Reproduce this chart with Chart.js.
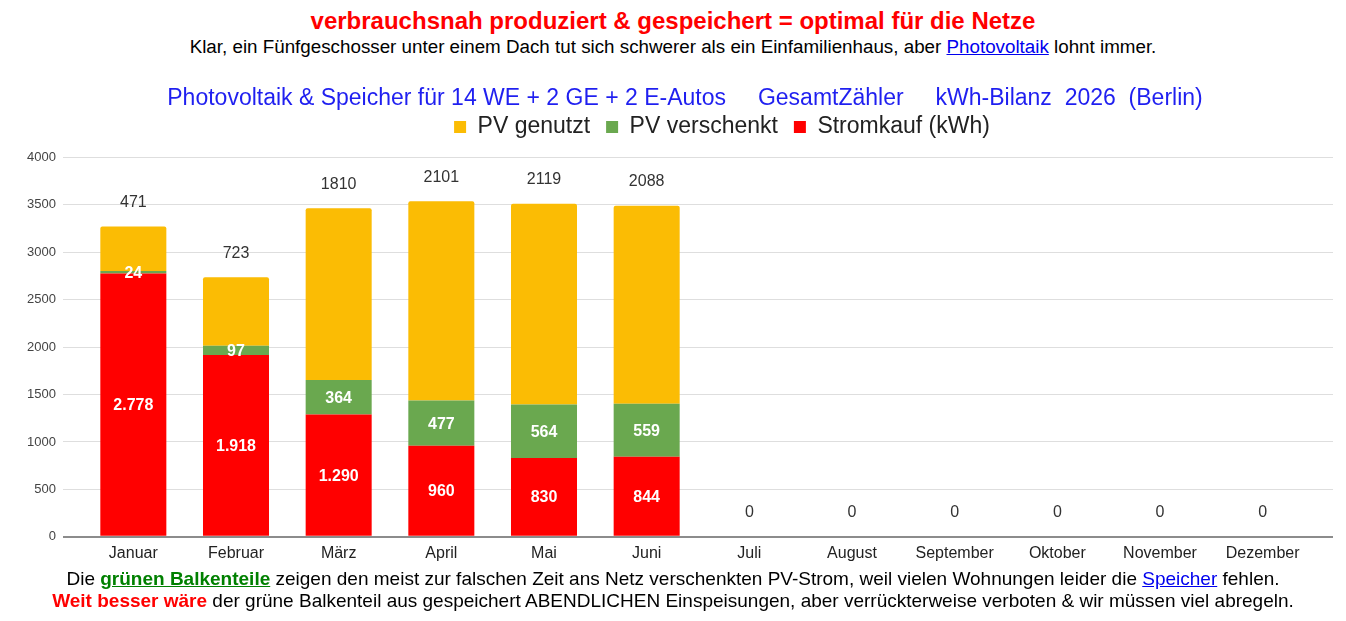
<!DOCTYPE html>
<html lang="de">
<head>
<meta charset="utf-8">
<title>PV-Bilanz 2026</title>
<script src="https://cdn.jsdelivr.net/npm/chart.js@4.4.1/dist/chart.umd.min.js"></script>
<style>
  html, body { margin: 0; padding: 0; background: #fff; }
  body { width: 1346px; height: 621px; position: relative; overflow: hidden;
         font-family: "Liberation Sans", Arial, sans-serif; }
  .line { position: absolute; left: 0; width: 1346px; text-align: center; white-space: nowrap; }
  #head1 { top: 7px; font-size: 24px; font-weight: bold; color: #ff0000; line-height: 28px; }
  #head2 { top: 36px; font-size: 18.8px; color: #000; line-height: 22px; }
  #foot1 { top: 568px; font-size: 19px; color: #000; line-height: 22px; }
  #foot2 { top: 590px; font-size: 19px; color: #000; line-height: 22px; }
  a { color: #0000ee; text-decoration: underline; }
  .green { color: #008000; font-weight: bold; text-decoration: underline; }
  .red { color: #ff0000; font-weight: bold; }
  #wrap { position: absolute; left: 0; top: 58px; width: 1346px; height: 512px; }
</style>
</head>
<body>
<div class="line" id="head1">verbrauchsnah produziert &amp; gespeichert = optimal für die Netze</div>
<div class="line" id="head2">Klar, ein Fünfgeschosser unter einem Dach tut sich schwerer als ein Einfamilienhaus, aber <a href="#">Photovoltaik</a> lohnt immer.</div>
<div id="wrap"><canvas id="pvChart"></canvas></div>
<div class="line" id="foot1">Die <span class="green">grünen Balkenteile</span> zeigen den meist zur falschen Zeit ans Netz verschenkten PV-Strom, weil vielen Wohnungen leider die <a href="#">Speicher</a> fehlen.</div>
<div class="line" id="foot2"><span class="red">Weit besser wäre</span> der grüne Balkenteil aus gespeichert ABENDLICHEN Einspeisungen, aber verrückterweise verboten &amp; wir müssen viel abregeln.</div>

<script>
// Monate und Werte (kWh)
const months = ['Januar', 'Februar', 'März', 'April', 'Mai', 'Juni', 'Juli', 'August', 'September', 'Oktober', 'November', 'Dezember'];
const stromkauf = [2778, 1918, 1290, 960, 830, 844, 0, 0, 0, 0, 0, 0];
const pvVerschenkt = [24, 97, 364, 477, 564, 559, 0, 0, 0, 0, 0, 0];
const pvGenutzt = [471, 723, 1810, 2101, 2119, 2088, 0, 0, 0, 0, 0, 0];
const yTicks = [0, 500, 1000, 1500, 2000, 2500, 3000, 3500, 4000];

const FONT = '"Liberation Sans", Arial, sans-serif';
Chart.defaults.font.family = FONT;

const fmt = v => String(v).replace(/\B(?=(\d{3})+(?!\d))/g, '.');

// Zahlen in / ueber die Balken schreiben
const barLabels = {
  id: 'barLabels',
  afterDatasetsDraw(chart) {
    const ctx = chart.ctx;
    ctx.save();
    ctx.textAlign = 'center';
    ctx.textBaseline = 'middle';
    chart.data.datasets.forEach((ds, i) => {
      const meta = chart.getDatasetMeta(i);
      meta.data.forEach((bar, j) => {
        const v = ds.data[j];
        if (ds.labelPos === 'top') {
          ctx.font = '16px ' + FONT;
          ctx.fillStyle = '#333';
          ctx.fillText(String(v), bar.x, bar.y - 24);
        } else if (v > 0) {
          ctx.font = 'bold 16px ' + FONT;
          ctx.fillStyle = '#fff';
          ctx.fillText(ds.labelFmt(v), bar.x, (bar.y + bar.base) / 2 + 1);
        }
      });
    });
    ctx.restore();
  }
};

// Titel und Legende stehen im Original etwas rechts der Mitte
const nudge = {
  id: 'nudge',
  afterLayout(chart) {
    chart.titleBlock.left += 12;
    chart.titleBlock.right += 12;
    chart.legend.left += 49;
    chart.legend.right += 49;
  }
};

const gridColor = c => (c.tick && c.tick.value === 0 ? '#8c8c8c' : '#dedede');
const gridWidth = c => (c.tick && c.tick.value === 0 ? 2 : 1);

new Chart(document.getElementById('pvChart'), {
  type: 'bar',
  data: {
    labels: months,
    datasets: [
      { label: 'Stromkauf (kWh)', data: stromkauf, backgroundColor: '#ff0000', labelFmt: fmt },
      { label: 'PV verschenkt', data: pvVerschenkt, backgroundColor: '#6aa84f', labelFmt: String },
      { label: 'PV genutzt', data: pvGenutzt, backgroundColor: '#fbbc04', labelPos: 'top',
        borderRadius: { topLeft: 2, topRight: 2 }, borderSkipped: 'bottom' },
    ],
  },
  options: {
    responsive: true,
    maintainAspectRatio: false,
    animation: false,
    datasets: { bar: { categoryPercentage: 1, barPercentage: 0.643 } },
    layout: { padding: 0 },
    plugins: {
      tooltip: { enabled: false },
      title: {
        display: true,
        text: 'Photovoltaik & Speicher für 14 WE + 2 GE + 2 E-Autos     GesamtZähler     kWh-Bilanz  2026  (Berlin)',
        color: '#1f1ff0',
        font: { size: 23, weight: 'normal', lineHeight: 1 },
        padding: { top: 29.5, bottom: -11 },
      },
      // leerer Untertitel als Abstand zwischen Legende und Diagramm
      subtitle: {
        display: true,
        text: '',
        weight: 500,
        font: { size: 1, lineHeight: 1 },
        padding: { top: 4, bottom: 4 },
      },
      legend: {
        position: 'top',
        labels: {
          color: '#222',
          font: { size: 23 },
          boxWidth: 12,
          boxHeight: 12,
          padding: 16,
          sort: (a, b) => b.datasetIndex - a.datasetIndex,
        },
      },
    },
    scales: {
      x: {
        stacked: true,
        grid: { display: false, drawTicks: false },
        border: { display: false },
        ticks: { color: '#222', font: { size: 16 }, padding: 7 },
      },
      y: {
        stacked: true,
        min: 0,
        max: 4000,
        afterBuildTicks: s => { s.ticks = yTicks.map(v => ({ value: v })); },
        afterFit: s => { s.width = 82; },
        border: { display: false },
        grid: { color: gridColor, tickColor: gridColor, lineWidth: gridWidth, tickLength: 19 },
        ticks: { color: '#444', font: { size: 13 }, padding: 7, callback: v => String(v) },
      },
      y2: {
        position: 'right',
        min: 0,
        max: 4000,
        afterBuildTicks: s => { s.ticks = yTicks.map(v => ({ value: v })); },
        afterFit: s => { s.width = 32; },
        border: { display: false },
        grid: { drawOnChartArea: false, color: gridColor, tickColor: gridColor, lineWidth: gridWidth, tickLength: 19 },
        ticks: { display: false },
      },
    },
  },
  plugins: [barLabels, nudge],
});
</script>
</body>
</html>
